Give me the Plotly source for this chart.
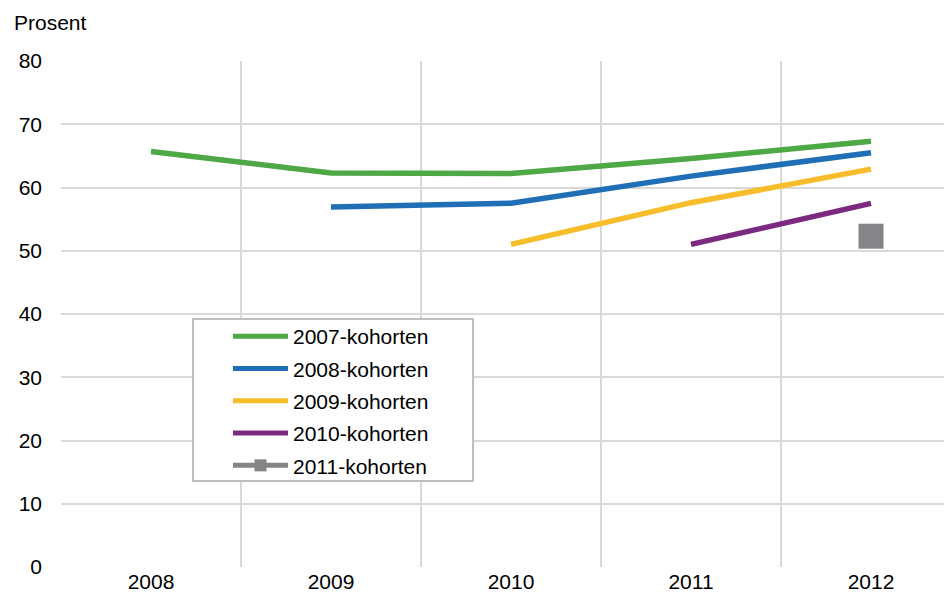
import plotly.graph_objects as go

years = ["2008", "2009", "2010", "2011", "2012"]
cohort_names = ["2007-kohorten", "2008-kohorten", "2009-kohorten", "2010-kohorten", "2011-kohorten"]
k2007 = [65.7, 62.3, 62.2, 64.6, 67.3]
k2008 = [None, 56.9, 57.5, 61.8, 65.5]
k2009 = [None, None, 51.0, 57.6, 62.9]
k2010 = [None, None, None, 51.0, 57.5]
k2011 = [None, None, None, None, 52.3]
colors = ["#4EA846", "#1F6EB6", "#F8BD2A", "#7B2A80", "#858587"]
y_ticks = [0, 10, 20, 30, 40, 50, 60, 70, 80]

FONT = "Liberation Sans, Arial, sans-serif"
# page body has an 8px offset; margins are set so the plot sits like the reference
L, T, B, R = 53, 53, 33, 8
W, H = 952, 592
PW, PH = W - L - R, H - T - B

fig = go.Figure()
series = [k2007, k2008, k2009, k2010]
for i, s in enumerate(series):
    fig.add_trace(go.Scatter(
        x=years, y=s, name=cohort_names[i], mode="lines",
        line=dict(color=colors[i], width=5.5), legendgroup=str(i)))
fig.add_trace(go.Scatter(
    x=years, y=k2011, name=cohort_names[4], mode="lines+markers",
    line=dict(color=colors[4], width=5.5),
    marker=dict(symbol="square", size=25, color=colors[4]), legendgroup="4"))

def px_x(wx):
    return (wx - 8 - L) / PW

def px_y(wy):
    return (H - B - (wy - 8)) / PH

fig.update_layout(
    width=W, height=H,
    margin=dict(l=L, r=R, t=T, b=B),
    paper_bgcolor="white", plot_bgcolor="white",
    font=dict(family=FONT, size=21, color="#000000"),
    showlegend=True,
    legend=dict(
        x=px_x(228), y=px_y(316), xanchor="left", yanchor="top",
        borderwidth=0, bgcolor="rgba(0,0,0,0)",
        font=dict(size=21), tracegroupgap=2, itemwidth=55,
        itemsizing="constant",
    ),
    shapes=[dict(
        type="rect", xref="paper", yref="paper",
        x0=px_x(193), x1=px_x(473), y0=px_y(481), y1=px_y(319),
        line=dict(color="#BFBFBF", width=2), fillcolor="white", layer="above")],
    xaxis=dict(
        type="category", categoryorder="array", categoryarray=years,
        range=[-0.5, 4.45], tickson="boundaries", showgrid=True,
        gridcolor="#D9D9D9", gridwidth=2, ticks="", showline=False,
        zeroline=False, automargin=False, fixedrange=True,
    ),
    yaxis=dict(
        range=[0, 80], tickvals=y_ticks, showgrid=True,
        gridcolor="#D9D9D9", gridwidth=2, ticks="", showline=False,
        zeroline=False, automargin=False, ticklabelstandoff=18,
    ),
    annotations=[dict(
        text="Prosent", xref="paper", yref="paper", x=px_x(12), y=px_y(23),
        xanchor="left", yanchor="middle", showarrow=False,
        font=dict(size=21, family=FONT))],
)

fig.write_html("out.html")
